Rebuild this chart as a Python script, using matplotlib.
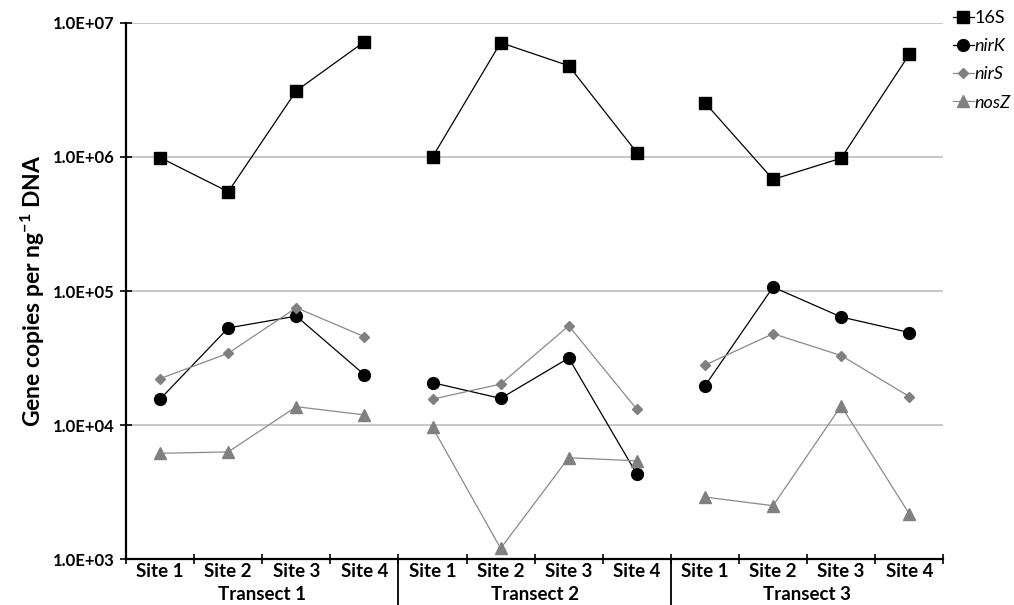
import matplotlib
matplotlib.use("Agg")
import matplotlib.pyplot as plt
import matplotlib.transforms as mtransforms
import numpy as np

plt.rcParams['font.family'] = ['Lato', 'DejaVu Sans']
plt.rcParams['mathtext.fontset'] = 'custom'
plt.rcParams['mathtext.rm'] = 'Lato'
plt.rcParams['mathtext.bf'] = 'Lato:bold'
plt.rcParams['mathtext.it'] = 'Lato:italic'

# Gene copy numbers per ng DNA, three transects x four sites
sites = ["Site 1", "Site 2", "Site 3", "Site 4"]
transects = ["Transect 1", "Transect 2", "Transect 3"]

s16 = [9.9e5, 5.5e5, 3.12e6, 7.25e6,
       1.0e6, 7.13e6, 4.8e6, 1.08e6,
       2.54e6, 6.8e5, 9.8e5, 5.83e6]
nirK = [1.56e4, 5.3e4, 6.5e4, 2.37e4,
        2.07e4, 1.58e4, 3.16e4, 4.3e3,
        1.96e4, 1.07e5, 6.4e4, 4.9e4]
nirS = [2.22e4, 3.43e4, 7.5e4, 4.56e4,
        1.56e4, 2.02e4, 5.5e4, 1.31e4,
        2.8e4, 4.8e4, 3.3e4, 1.63e4]
nosZ = [6.15e3, 6.3e3, 1.37e4, 1.19e4,
        9.6e3, 1.2e3, 5.7e3, 5.4e3,
        2.9e3, 2.5e3, 1.39e4, 2.17e3]

gene_names = ["16S", "nirK", "nirS", "nosZ"]

yticks = [1e3, 1e4, 1e5, 1e6, 1e7]
ytick_labels = ["1.0E+03", "1.0E+04", "1.0E+05", "1.0E+06", "1.0E+07"]

grey = "#808080"
styles = [
    dict(color="black", marker="s", markersize=9, linewidth=0.9),
    dict(color="black", marker="o", markersize=8.5, linewidth=0.9),
    dict(color="#8a8a8a", marker="D", markersize=5.5,
         markerfacecolor=grey, markeredgecolor=grey, linewidth=0.9),
    dict(color="#8a8a8a", marker="^", markersize=8,
         markerfacecolor=grey, markeredgecolor=grey, linewidth=0.9),
]

fig = plt.figure(figsize=(10.14, 6.05), dpi=100)
ax = fig.add_axes([0.1243, 0.076, 0.806, 0.886])

n_sites = len(sites)
x_all = np.arange(1, n_sites * len(transects) + 1)

for name, values, style in zip(gene_names, [s16, nirK, nirS, nosZ], styles):
    vals = np.asarray(values)
    for t in range(len(transects)):
        sl = slice(t * n_sites, (t + 1) * n_sites)
        ax.plot(x_all[sl], vals[sl], label=name if t == 0 else None,
                zorder=3, **style)

ax.set_yscale("log")
ax.set_ylim(1e3, 1e7)
ax.set_xlim(0.5, len(x_all) + 0.5)

ax.set_yticks(yticks)
ax.set_yticklabels(ytick_labels, fontsize=12, fontweight="bold")
ax.yaxis.set_minor_locator(matplotlib.ticker.NullLocator())
ax.tick_params(axis="y", which="major", direction="inout", length=9, width=1.2, pad=4)

ax.grid(axis="y", which="major", color="#bdbdbd", linewidth=1.2, zorder=0)
ax.set_axisbelow(True)

# Category boundaries as ticks, site names centred in each category
ax.set_xticks(np.arange(0.5, len(x_all) + 1, 1.0))
ax.set_xticklabels([])
ax.set_xticks(x_all, minor=True)
ax.set_xticklabels(sites * len(transects), minor=True, fontsize=13.5, fontweight="bold")
ax.tick_params(axis="x", which="major", direction="inout", length=7, width=1.2)
ax.tick_params(axis="x", which="minor", length=0, pad=3)

for side in ("top", "right"):
    ax.spines[side].set_visible(False)
for side in ("left", "bottom"):
    ax.spines[side].set_linewidth(1.6)

# Transect labels and separators beneath the axis
trans = mtransforms.blended_transform_factory(ax.transData, ax.transAxes)
for t, name in enumerate(transects):
    centre = t * n_sites + (n_sites + 1) / 2
    ax.text(centre, -0.067, name, transform=trans, ha="center", va="center",
            fontsize=13.5, fontweight="bold")
    if t > 0:
        xb = t * n_sites + 0.5
        ax.plot([xb, xb], [0, -0.09], transform=trans, color="black",
                linewidth=1.3, clip_on=False)

ax.set_ylabel("Gene copies per ng$^{\\mathbf{-1}}$ DNA", fontsize=16.5,
              fontweight="bold", labelpad=4)

leg = ax.legend(loc="upper left", bbox_to_anchor=(1.003, 1.038), frameon=False,
                fontsize=13, handlelength=1.15, handletextpad=0.05,
                labelspacing=0.68, borderaxespad=0)
for txt in leg.get_texts()[1:]:
    txt.set_fontstyle("italic")

fig.savefig("out.png", dpi=100)
